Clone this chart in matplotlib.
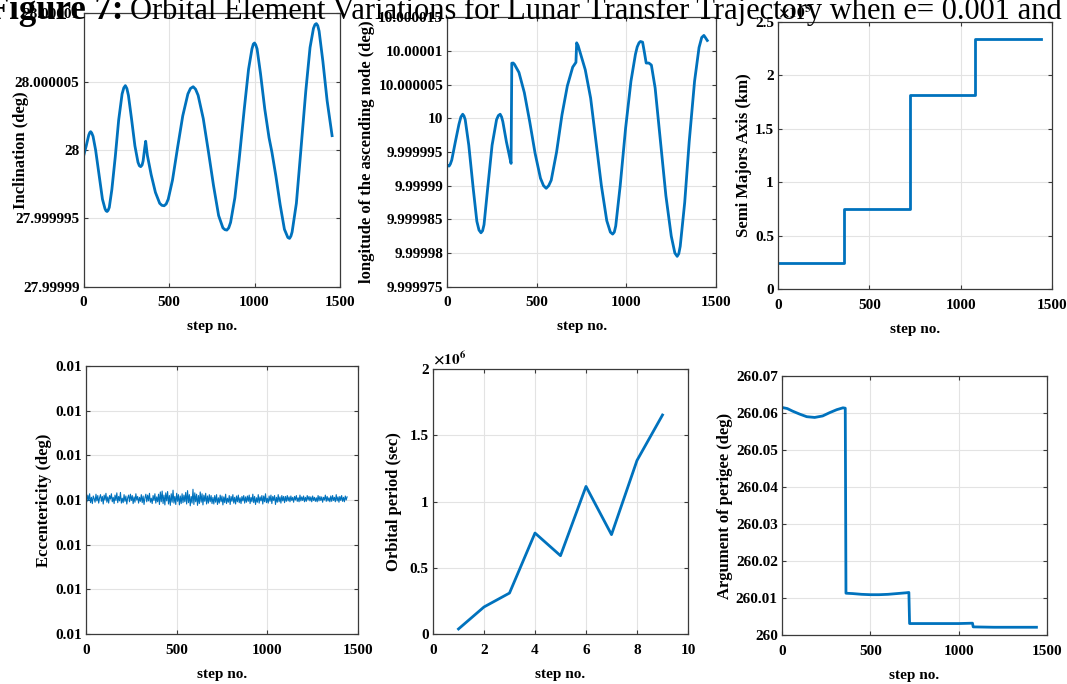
import numpy as np
import matplotlib
matplotlib.use("Agg")
import matplotlib.pyplot as plt
import matplotlib.ticker as ticker

plt.rcParams['font.family'] = 'serif'
plt.rcParams['font.serif'] = ['Liberation Serif', 'DejaVu Serif']
plt.rcParams['font.weight'] = 'bold'
plt.rcParams['mathtext.fontset'] = 'stix'

BLUE = '#0072BD'

# inclination, offset from 28 deg in 1e-6 deg
inc_step = [0, 15, 30, 36, 41, 47, 55, 70, 90, 110, 125, 131, 137, 143, 150, 165, 185,
            205, 225, 235, 244, 253, 262, 280, 300, 318, 326, 334, 342, 348, 358, 363,
            368, 373, 395, 420, 445, 458, 471, 483, 495, 520, 550, 580, 610, 625, 641,
            655, 670, 700, 730, 760, 790, 815, 827, 838, 849, 860, 885, 910, 940, 965,
            985, 993, 1000, 1007, 1015, 1035, 1060, 1085, 1102, 1125, 1150, 1175,
            1195, 1205, 1213, 1220, 1245, 1270, 1300, 1325, 1345, 1354, 1362, 1370,
            1378, 1400, 1425, 1454]
inc_dev = [-0.42, 0.3, 1.1, 1.28, 1.34, 1.25, 1.0, 0.0, -1.8, -3.6, -4.3, -4.45, -4.5,
           -4.42, -4.2, -2.9, -0.5, 2.2, 4.1, 4.55, 4.71, 4.5, 4.0, 2.3, 0.3, -0.9,
           -1.15, -1.22, -1.1, -0.8, 0.2, 0.64, 0.1, -0.4, -1.8, -3.1, -3.9, -4.05,
           -4.08, -3.95, -3.6, -2.2, 0.2, 2.5, 4.1, 4.5, 4.63, 4.45, 4.0, 2.3, -0.1,
           -2.6, -4.8, -5.7, -5.83, -5.86, -5.7, -5.3, -3.5, -0.7, 3.0, 5.9, 7.4,
           7.75, 7.83, 7.7, 7.4, 5.6, 3.0, 0.9, -0.17, -1.9, -4.0, -5.8, -6.4, -6.47,
           -6.3, -6.0, -3.9, -0.2, 4.3, 7.5, 8.9, 9.18, 9.25, 9.1, 8.7, 6.5, 3.6, 1.05]

# RAAN, offset from 10 deg in 1e-6 deg
raan_step = [0, 5, 10, 17, 25, 45, 65, 76, 86, 93, 100, 120, 145, 165, 177, 188, 197,
             205, 225, 250, 275, 285, 295, 303, 310, 330, 350, 356, 360, 368, 375, 400,
             430, 460, 490, 520, 537, 552, 566, 580, 610, 640, 670, 700, 718, 722, 730,
             770, 800, 830, 860, 890, 910, 923, 932, 940, 965, 995, 1025, 1050, 1060,
             1070, 1078, 1090, 1100, 1110, 1125, 1139, 1160, 1190, 1220, 1250, 1270,
             1283, 1292, 1300, 1325, 1350, 1380, 1405, 1420, 1432, 1440, 1451]
raan_dev = [-6.95, -7.05, -7.1, -6.8, -6.2, -3.5, -0.9, 0.2, 0.6, 0.35, -0.2, -4.0,
            -10.5, -15.3, -16.6, -17.0, -16.7, -15.8, -10.5, -4.0, -0.2, 0.4, 0.6, 0.2,
            -0.5, -3.5, -6.0, -6.7, 8.18, 8.2, 8.0, 6.8, 3.8, -0.5, -5.2, -8.9, -10.0,
            -10.4, -10.0, -9.2, -5.0, 0.5, 4.8, 7.6, 8.3, 11.2, 10.8, 7.2, 3.0, -3.5,
            -10.0, -15.2, -16.9, -17.2, -16.9, -16.0, -10.0, -1.5, 5.5, 9.5, 10.6,
            11.2, 11.4, 11.3, 9.8, 8.2, 8.2, 7.9, 4.5, -3.5, -11.5, -17.5, -20.0, -20.5,
            -20.1, -19.0, -12.5, -3.5, 5.5, 10.5, 12.0, 12.3, 12.0, 11.55]

# semi major axis (x1e5 km)
sma_step = [0, 360, 360, 720, 720, 1080, 1080, 1440]
sma_val = [0.243, 0.243, 0.75, 0.75, 1.815, 1.815, 2.338, 2.338]

# eccentricity jitter around 0.01, in 1e-7 (one value every 5 steps)
ecc_dev = [5, -6, 9, -3, 12, -8, 4, -10, 7, 1, -7, 11, -4, 8, -9, 3, 10, -5, 6, -11,
           9, -2, 13, -7, 5, -9, 8, 0, 12, -6, 4, -10, 9, -3, 14, -8, 6, -4, 15, -9,
           2, -8, 10, -5, 7, -11, 3, 9, -6, 11, -3, 8, -10, 5, -7, 12, -2, 6, -9, 4,
           -5, 10, -8, 7, -12, 3, 11, -6, 9, -4, 13, -7, 2, -10, 8, -3, 12, -9, 5, -6,
           11, -12, 16, -6, 18, -10, 9, -13, 14, -4, 17, -11, 8, -14, 12, -7, 20, -9, 6, -12,
           13, -5, 10, -13, 7, -10, 12, -8, 9, -6, 15, -11, 19, -8, 10, -15, 6, -9, 22, -12,
           14, -6, 11, -14, 8, -10, 16, -7, 12, -13, 9, -5, 13, -11, 7, -9, 10, -6, 8, -10,
           4, -11, 8, -7, 10, -12, 3, -9, 9, -6, 7, -13, 5, -8, 11, -10, 2, -7, 8, -12,
           6, -5, 10, -9, 4, -11, 7, -6, 9, -8, 3, -10, 6, -4, 8, -9, 5, -7, 7, -5,
           9, -10, 4, -6, 11, -8, 6, -12, 3, -7, 10, -9, 5, -4, 8, -11, 7, -6, 12, -8,
           2, -9, 7, -5, 9, -10, 6, -3, 8, -12, 4, -7, 10, -6, 5, -9, 8, -4, 6, -8,
           6, -5, 8, -4, 5, -6, 7, -3, 4, -7, 6, -2, 8, -5, 3, -6, 9, -4, 5, -3,
           7, -6, 4, -5, 8, -2, 6, -4, 5, -6, 7, -3, 4, -5, 3, -6, 8, -4, 6, -3,
           5, -7, 4, -2, 9, -5, 6, -4, 3, -6, 7, -5, 8, -3, 4, -6, 10, -4, 5, -7,
           6, -3, 8, -5, 4, -6, 7, -2, 5]
ecc_step = np.arange(0, 1445, 5)

# orbital period (x1e6 sec)
per_step = [1, 2, 3, 4, 5, 6, 7, 8, 9]
per_val = [0.038, 0.204, 0.309, 0.762, 0.591, 1.114, 0.75, 1.31, 1.653]

# argument of perigee (deg)
aop_step = [0, 30, 60, 100, 140, 185, 230, 270, 310, 345, 358, 362, 400, 450, 500,
            550, 600, 650, 700, 718, 722, 800, 900, 1000, 1078, 1082, 1200, 1300, 1440]
aop_val = [260.0615, 260.0612, 260.0605, 260.0597, 260.0590, 260.0588, 260.0592,
           260.0601, 260.0609, 260.0614, 260.0613, 260.0113, 260.0112, 260.0110,
           260.0109, 260.0109, 260.0110, 260.0112, 260.0114, 260.0115, 260.0031,
           260.0031, 260.0031, 260.0031, 260.0032, 260.0022, 260.0021, 260.0021,
           260.0021]

fig = plt.figure(figsize=(10.67, 6.84), dpi=100)


def style(ax, ylabel):
    ax.grid(True, color='#e3e3e3', linewidth=0.8)
    ax.set_axisbelow(True)
    for s in ax.spines.values():
        s.set_color('#3a3a3a')
        s.set_linewidth(0.9)
    ax.tick_params(direction='in', top=True, right=True, labelsize=11,
                   length=3, color='#3a3a3a')
    ax.tick_params(axis='x', pad=7)
    ax.tick_params(axis='y', pad=3)
    ax.set_ylabel(ylabel, fontsize=12, fontweight='bold', labelpad=2)
    ax.set_xlabel('step no.', fontsize=11, fontweight='bold', labelpad=8)


def strip_fmt(v, pos):
    return ('%.6f' % v).rstrip('0').rstrip('.')


def g_fmt(v, pos):
    return '%g' % round(v, 6)


# inclination
ax1 = fig.add_axes([0.0784, 0.5809, 0.2402, 0.3996])
ax1.plot(inc_step, 28 + np.array(inc_dev) * 1e-6, color=BLUE, lw=2)
ax1.set_xlim(0, 1500)
ax1.set_ylim(27.99999, 28.00001)
ax1.set_xticks([0, 500, 1000, 1500])
ax1.set_yticks(28 + np.array([-10, -5, 0, 5, 10]) * 1e-6)
ax1.yaxis.set_major_formatter(ticker.FuncFormatter(strip_fmt))
style(ax1, 'Inclination (deg)')
ax1.yaxis.set_label_coords(-0.215, 0.5)

# RAAN
ax2 = fig.add_axes([0.4192, 0.5809, 0.2519, 0.3939])
ax2.plot(raan_step, 10 + np.array(raan_dev) * 1e-6, color=BLUE, lw=2)
ax2.set_xlim(0, 1500)
ax2.set_ylim(9.999975, 10.000015)
ax2.set_xticks([0, 500, 1000, 1500])
ax2.set_yticks(10 + np.arange(-25, 20, 5) * 1e-6)
ax2.yaxis.set_major_formatter(ticker.FuncFormatter(strip_fmt))
style(ax2, 'longitude of the ascending node (deg)')

# semi major axis
ax3 = fig.add_axes([0.7292, 0.5775, 0.2568, 0.3904])
ax3.plot(sma_step, sma_val, color=BLUE, lw=2)
ax3.set_xlim(0, 1500)
ax3.set_ylim(0, 2.5)
ax3.set_xticks([0, 500, 1000, 1500])
ax3.set_yticks([0, 0.5, 1, 1.5, 2, 2.5])
ax3.yaxis.set_major_formatter(ticker.FuncFormatter(g_fmt))
ax3.text(0.0, 1.005, r'$\times10^{5}$', transform=ax3.transAxes, fontsize=11,
         ha='left', va='bottom')
style(ax3, 'Semi Majors Axis (km)')

# eccentricity
ax4 = fig.add_axes([0.0806, 0.0731, 0.2549, 0.3918])
ax4.plot(ecc_step, 0.01 + (2 + np.array(ecc_dev)) * 1e-7, color=BLUE, lw=0.8)
ax4.set_xlim(0, 1500)
ax4.set_ylim(0.01 - 3e-5, 0.01 + 3e-5)
ax4.set_xticks([0, 500, 1000, 1500])
ax4.set_yticks(0.01 + np.arange(-3, 4) * 1e-5)
ax4.yaxis.set_major_formatter(ticker.FormatStrFormatter('%.2f'))
style(ax4, 'Eccentericity (deg)')

# orbital period
ax5 = fig.add_axes([0.4058, 0.0731, 0.2390, 0.3874])
ax5.plot(per_step, per_val, color=BLUE, lw=2)
ax5.set_xlim(0, 10)
ax5.set_ylim(0, 2)
ax5.set_xticks([0, 2, 4, 6, 8, 10])
ax5.set_yticks([0, 0.5, 1, 1.5, 2])
ax5.yaxis.set_major_formatter(ticker.FuncFormatter(g_fmt))
ax5.text(0.0, 1.005, r'$\times10^{6}$', transform=ax5.transAxes, fontsize=11,
         ha='left', va='bottom')
style(ax5, 'Orbital period (sec)')
ax5.yaxis.set_label_coords(-0.12, 0.5)

# argument of perigee
ax6 = fig.add_axes([0.7329, 0.0716, 0.2484, 0.3787])
ax6.plot(aop_step, aop_val, color=BLUE, lw=2)
ax6.set_xlim(0, 1500)
ax6.set_ylim(260, 260.07)
ax6.set_xticks([0, 500, 1000, 1500])
ax6.set_yticks(np.arange(0, 8) * 0.01 + 260)
ax6.yaxis.set_major_formatter(ticker.FuncFormatter(lambda v, p: ('%.2f' % v).rstrip('0').rstrip('.')))
style(ax6, 'Argument of perigee (deg)')

# caption, cut off at the top/left like the source scan
fig.text(123 / 1067, 1 - 19 / 684, 'Figure 7:', fontsize=25, fontweight='bold',
         ha='right', va='baseline', zorder=10)
fig.text(130 / 1067, 1 - 19 / 684,
         'Orbital Element Variations for Lunar Transfer Trajectory when e= 0.001 and',
         fontsize=22, fontweight='normal', ha='left', va='baseline', zorder=10)

fig.savefig('out.png', dpi=100)
